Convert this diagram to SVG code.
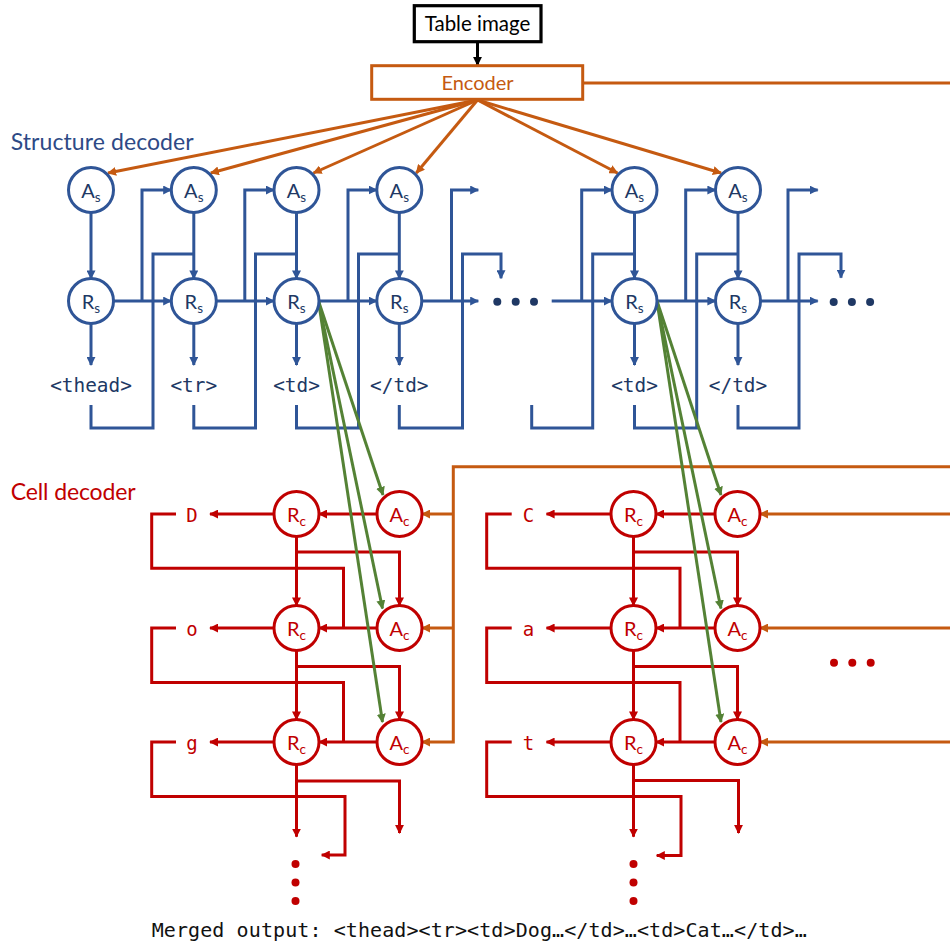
<svg xmlns="http://www.w3.org/2000/svg" width="950" height="946" viewBox="0 0 950 946">
<defs>
<marker id="ab" viewBox="0 0 10 10" refX="9" refY="5" markerWidth="9" markerHeight="9" markerUnits="userSpaceOnUse" orient="auto"><path d="M0,0 L10,5 L0,10 z" fill="#2F5597"/></marker>
<marker id="ao" viewBox="0 0 10 10" refX="9" refY="5" markerWidth="9" markerHeight="9" markerUnits="userSpaceOnUse" orient="auto"><path d="M0,0 L10,5 L0,10 z" fill="#C55A11"/></marker>
<marker id="ar" viewBox="0 0 10 10" refX="9" refY="5" markerWidth="9" markerHeight="9" markerUnits="userSpaceOnUse" orient="auto"><path d="M0,0 L10,5 L0,10 z" fill="#C00000"/></marker>
<marker id="ag" viewBox="0 0 10 10" refX="9" refY="5" markerWidth="9" markerHeight="9" markerUnits="userSpaceOnUse" orient="auto"><path d="M0,0 L10,5 L0,10 z" fill="#548235"/></marker>
<marker id="ak" viewBox="0 0 10 10" refX="9" refY="5" markerWidth="9" markerHeight="9" markerUnits="userSpaceOnUse" orient="auto"><path d="M0,0 L10,5 L0,10 z" fill="#000"/></marker>
</defs>
<style>
.bl{fill:none;stroke:#2F5597;stroke-width:3}
.ba{fill:none;stroke:#2F5597;stroke-width:3;marker-end:url(#ab)}
.or{fill:none;stroke:#C55A11;stroke-width:3}
.oa{fill:none;stroke:#C55A11;stroke-width:3;marker-end:url(#ao)}
.rl{fill:none;stroke:#C00000;stroke-width:3}
.ra{fill:none;stroke:#C00000;stroke-width:3;marker-end:url(#ar)}
.ga{fill:none;stroke:#548235;stroke-width:3;marker-end:url(#ag)}
.ns{fill:#fff;stroke:#2F5597;stroke-width:3}
.nc{fill:#fff;stroke:#C00000;stroke-width:3}
.ls{font-family:Lato,"Open Sans",sans-serif;font-size:20px;fill:#203864;text-anchor:middle}
.lc{font-family:Lato,"Open Sans",sans-serif;font-size:20px;fill:#C00000;text-anchor:middle}
.sub{font-size:13.5px}
.tag{font-family:"DejaVu Sans Mono","Liberation Mono",monospace;font-size:19.4px;fill:#203864;text-anchor:middle}
.ch{font-family:"DejaVu Sans Mono","Liberation Mono",monospace;font-size:19px;fill:#C00000;text-anchor:middle}
.ttl{font-family:Lato,"Open Sans",sans-serif;font-size:23px}
</style>
<rect width="950" height="946" fill="#fff"/>

<g id="connectors">
<path class="or" d="M583,83 H950"/>
<path d="M477.5,41.7 V65" fill="none" stroke="#000" stroke-width="3" marker-end="url(#ak)"/>
<path class="oa" d="M477.5,100 L108,173"/>
<path class="oa" d="M477.5,100 L210.8,173"/>
<path class="oa" d="M477.5,100 L313.5,173"/>
<path class="oa" d="M477.5,100 L416.3,173"/>
<path class="oa" d="M477.5,100 L617.5,173"/>
<path class="oa" d="M477.5,100 L721,173"/>
<path class="ba" d="M91,212.5 V278.5"/>
<path class="ba" d="M193.8,212.5 V278.5"/>
<path class="ba" d="M296.5,212.5 V278.5"/>
<path class="ba" d="M399.3,212.5 V278.5"/>
<path class="ba" d="M91,323.5 V365"/>
<path class="ba" d="M193.8,323.5 V365"/>
<path class="ba" d="M296.5,323.5 V365"/>
<path class="ba" d="M399.3,323.5 V365"/>
<path class="ba" d="M113.5,301 H171.3"/>
<path class="ba" d="M216.3,301 H274"/>
<path class="ba" d="M319,301 H376.8"/>
<path class="ba" d="M421.8,301 H478.3"/>
<path class="ba" d="M142,301 V190 H171.3"/>
<path class="ba" d="M244.8,301 V190 H274"/>
<path class="ba" d="M348,301 V190 H376.8"/>
<path class="ba" d="M451.5,301 V190 H478.3"/>
<path class="bl" d="M91,405 V428 H153 V254 H193.8"/>
<path class="bl" d="M193.8,405 V428 H255.5 V254 H296.5"/>
<path class="bl" d="M296.5,405 V428 H358.5 V254 H399.3"/>
<path class="ba" d="M399.3,405 V428 H462.5 V254 H501 V278.3"/>
<path class="ba" d="M551.7,301 H612"/>
<path class="ba" d="M581.7,301 V190 H612"/>
<path class="bl" d="M531.7,405 V428 H592.7 V254 H634.5"/>
<path class="ba" d="M634.5,212.5 V278.5"/>
<path class="ba" d="M738,212.5 V278.5"/>
<path class="ba" d="M634.5,323.5 V365"/>
<path class="ba" d="M738,323.5 V365"/>
<path class="ba" d="M657,301 H715.5"/>
<path class="ba" d="M685.7,301 V190 H715.5"/>
<path class="bl" d="M634.5,405 V428 H696.7 V254 H738"/>
<path class="ba" d="M760.5,301 H817.7"/>
<path class="ba" d="M788,301 V190 H817.7"/>
<path class="ba" d="M738,405 V428 H799 V254 H841 V277.7"/>
<path class="oa" d="M950,466.7 H453.3 V742 H422"/>
<path class="oa" d="M453.3,514 H422"/>
<path class="oa" d="M453.3,628 H422"/>
<path class="oa" d="M950,514 H760"/>
<path class="oa" d="M950,628 H760"/>
<path class="oa" d="M950,742 H760"/>
<path class="ra" d="M377,514 H319"/>
<path class="ra" d="M377,628 H319"/>
<path class="ra" d="M377,742 H319"/>
<path class="ra" d="M274,514 H210"/>
<path class="ra" d="M274,628 H210"/>
<path class="ra" d="M274,742 H210"/>
<path class="rl" d="M176,514 H151.7 V568.3 H343.5 V628"/>
<path class="rl" d="M176,628 H151.7 V682.5 H343.5 V742"/>
<path class="ra" d="M176,742 H151.7 V796.5 H345 V855 H321.7"/>
<path class="ra" d="M296.5,536.5 V605.5"/>
<path class="ra" d="M296.5,650.5 V719.5"/>
<path class="ra" d="M296.5,764.5 V836.7"/>
<path class="ra" d="M296.5,552 H399.5 V605.5"/>
<path class="ra" d="M296.5,666.5 H399.5 V719.5"/>
<path class="ra" d="M296.5,781 H399.5 V833"/>
<path class="ra" d="M715,514 H656"/>
<path class="ra" d="M715,628 H656"/>
<path class="ra" d="M715,742 H656"/>
<path class="ra" d="M611,514 H546.5"/>
<path class="ra" d="M611,628 H546.5"/>
<path class="ra" d="M611,742 H546.5"/>
<path class="rl" d="M511.7,514 H486.7 V568.3 H680 V628"/>
<path class="rl" d="M511.7,628 H486.7 V682.5 H680 V742"/>
<path class="ra" d="M511.7,742 H486.7 V796.5 H681 V855.5 H656.7"/>
<path class="ra" d="M633.5,536.5 V605.5"/>
<path class="ra" d="M633.5,650.5 V719.5"/>
<path class="ra" d="M633.5,764.5 V836.7"/>
<path class="ra" d="M633.5,552 H737.5 V605.5"/>
<path class="ra" d="M633.5,666.5 H737.5 V719.5"/>
<path class="ra" d="M633.5,780.5 H738.5 V833"/>
<path class="ga" d="M318.5,301 L383,495"/>
<path class="ga" d="M318.5,301 L382.5,608.5"/>
<path class="ga" d="M318.5,301 L382.5,722"/>
<path class="ga" d="M657,301 L721,495"/>
<path class="ga" d="M657,301 L721,608.5"/>
<path class="ga" d="M657,301 L721,722"/>
</g>

<g id="table-image">
<rect x="414.3" y="5.7" width="126.7" height="36" fill="#fff" stroke="#000" stroke-width="3.2"/>
<text x="477.5" y="31" font-family="Lato,'Open Sans',sans-serif" font-size="20.5" fill="#000" text-anchor="middle">Table image</text>
</g>
<g id="encoder">
<rect x="371.7" y="65.7" width="211" height="33.6" fill="#fff" stroke="#C55A11" stroke-width="3"/>
<text x="477.5" y="90" font-family="Lato,'Open Sans',sans-serif" font-size="20" fill="#C55A11" text-anchor="middle">Encoder</text>
</g>

<g id="structure-label"><text class="ttl" x="10.7" y="150" fill="#2E4A86" textLength="183">Structure decoder</text></g>
<g id="cell-label"><text class="ttl" x="10.7" y="500" fill="#C00000" textLength="125">Cell decoder</text></g>

<g id="As1"><circle class="ns" cx="91" cy="190" r="22.5"/><text class="ls" x="91" y="197.5">A<tspan class="sub" dy="4">s</tspan></text></g>
<g id="As2"><circle class="ns" cx="193.8" cy="190" r="22.5"/><text class="ls" x="193.8" y="197.5">A<tspan class="sub" dy="4">s</tspan></text></g>
<g id="As3"><circle class="ns" cx="296.5" cy="190" r="22.5"/><text class="ls" x="296.5" y="197.5">A<tspan class="sub" dy="4">s</tspan></text></g>
<g id="As4"><circle class="ns" cx="399.3" cy="190" r="22.5"/><text class="ls" x="399.3" y="197.5">A<tspan class="sub" dy="4">s</tspan></text></g>
<g id="As5"><circle class="ns" cx="634.5" cy="190" r="22.5"/><text class="ls" x="634.5" y="197.5">A<tspan class="sub" dy="4">s</tspan></text></g>
<g id="As6"><circle class="ns" cx="738" cy="190" r="22.5"/><text class="ls" x="738" y="197.5">A<tspan class="sub" dy="4">s</tspan></text></g>

<g id="Rs1"><circle class="ns" cx="91" cy="301" r="22.5"/><text class="ls" x="91" y="308.5">R<tspan class="sub" dy="4">s</tspan></text></g>
<g id="Rs2"><circle class="ns" cx="193.8" cy="301" r="22.5"/><text class="ls" x="193.8" y="308.5">R<tspan class="sub" dy="4">s</tspan></text></g>
<g id="Rs3"><circle class="ns" cx="296.5" cy="301" r="22.5"/><text class="ls" x="296.5" y="308.5">R<tspan class="sub" dy="4">s</tspan></text></g>
<g id="Rs4"><circle class="ns" cx="399.3" cy="301" r="22.5"/><text class="ls" x="399.3" y="308.5">R<tspan class="sub" dy="4">s</tspan></text></g>
<g id="Rs5"><circle class="ns" cx="634.5" cy="301" r="22.5"/><text class="ls" x="634.5" y="308.5">R<tspan class="sub" dy="4">s</tspan></text></g>
<g id="Rs6"><circle class="ns" cx="738" cy="301" r="22.5"/><text class="ls" x="738" y="308.5">R<tspan class="sub" dy="4">s</tspan></text></g>

<g id="tags">
<text class="tag" x="91" y="392">&lt;thead&gt;</text>
<text class="tag" x="193.8" y="392">&lt;tr&gt;</text>
<text class="tag" x="296.5" y="392">&lt;td&gt;</text>
<text class="tag" x="399.3" y="392">&lt;/td&gt;</text>
<text class="tag" x="634.5" y="392">&lt;td&gt;</text>
<text class="tag" x="738" y="392">&lt;/td&gt;</text>
</g>
<g id="struct-dots" fill="#1F3864">
<circle cx="497.3" cy="301.7" r="4"/><circle cx="515.7" cy="301.7" r="4"/><circle cx="534" cy="301.7" r="4"/>
<circle cx="833.7" cy="302" r="4"/><circle cx="851.9" cy="302" r="4"/><circle cx="870.1" cy="302" r="4"/>
</g>

<g id="Rc1"><circle class="nc" cx="296.5" cy="514" r="22.5"/><text class="lc" x="296.5" y="521.5">R<tspan class="sub" dy="4">c</tspan></text></g>
<g id="Ac1"><circle class="nc" cx="399.5" cy="514" r="22.5"/><text class="lc" x="399.5" y="521.5">A<tspan class="sub" dy="4">c</tspan></text></g>
<g id="Rc2"><circle class="nc" cx="296.5" cy="628" r="22.5"/><text class="lc" x="296.5" y="635.5">R<tspan class="sub" dy="4">c</tspan></text></g>
<g id="Ac2"><circle class="nc" cx="399.5" cy="628" r="22.5"/><text class="lc" x="399.5" y="635.5">A<tspan class="sub" dy="4">c</tspan></text></g>
<g id="Rc3"><circle class="nc" cx="296.5" cy="742" r="22.5"/><text class="lc" x="296.5" y="749.5">R<tspan class="sub" dy="4">c</tspan></text></g>
<g id="Ac3"><circle class="nc" cx="399.5" cy="742" r="22.5"/><text class="lc" x="399.5" y="749.5">A<tspan class="sub" dy="4">c</tspan></text></g>
<g id="Rc4"><circle class="nc" cx="633.5" cy="514" r="22.5"/><text class="lc" x="633.5" y="521.5">R<tspan class="sub" dy="4">c</tspan></text></g>
<g id="Ac4"><circle class="nc" cx="737.5" cy="514" r="22.5"/><text class="lc" x="737.5" y="521.5">A<tspan class="sub" dy="4">c</tspan></text></g>
<g id="Rc5"><circle class="nc" cx="633.5" cy="628" r="22.5"/><text class="lc" x="633.5" y="635.5">R<tspan class="sub" dy="4">c</tspan></text></g>
<g id="Ac5"><circle class="nc" cx="737.5" cy="628" r="22.5"/><text class="lc" x="737.5" y="635.5">A<tspan class="sub" dy="4">c</tspan></text></g>
<g id="Rc6"><circle class="nc" cx="633.5" cy="742" r="22.5"/><text class="lc" x="633.5" y="749.5">R<tspan class="sub" dy="4">c</tspan></text></g>
<g id="Ac6"><circle class="nc" cx="737.5" cy="742" r="22.5"/><text class="lc" x="737.5" y="749.5">A<tspan class="sub" dy="4">c</tspan></text></g>

<g id="chars">
<text class="ch" x="192" y="522">D</text>
<text class="ch" x="192" y="636">o</text>
<text class="ch" x="192" y="750">g</text>
<text class="ch" x="528.5" y="522">C</text>
<text class="ch" x="528.5" y="636">a</text>
<text class="ch" x="528.5" y="750">t</text>
</g>
<g id="cell-dots" fill="#C00000">
<circle cx="295.5" cy="864" r="4"/><circle cx="295.5" cy="882.5" r="4"/><circle cx="295.5" cy="901" r="4"/>
<circle cx="633.5" cy="864" r="4"/><circle cx="633.5" cy="882.5" r="4"/><circle cx="633.5" cy="901" r="4"/>
<circle cx="834" cy="662.7" r="4"/><circle cx="852.3" cy="662.7" r="4"/><circle cx="870.7" cy="662.7" r="4"/>
</g>

<g id="merged-output"><text x="151.7" y="937" font-family="'DejaVu Sans Mono','Liberation Mono',monospace" font-size="20" fill="#111" textLength="655">Merged output: &lt;thead&gt;&lt;tr&gt;&lt;td&gt;Dog…&lt;/td&gt;…&lt;td&gt;Cat…&lt;/td&gt;…</text></g>
</svg>
